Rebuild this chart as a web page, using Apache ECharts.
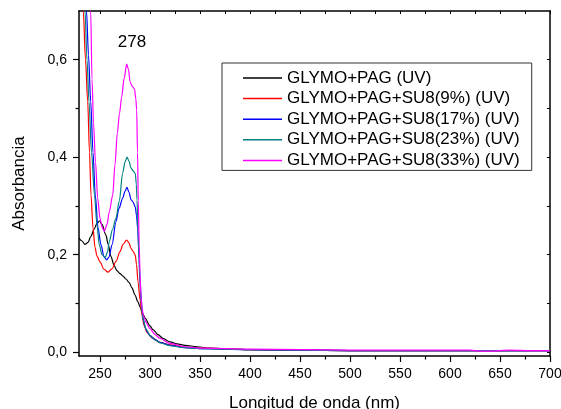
<!DOCTYPE html>
<html><head><meta charset="utf-8">
<script src="https://cdn.jsdelivr.net/npm/echarts@6/dist/echarts.min.js"></script>
<style>html,body{margin:0;padding:0;background:#fff}#c{width:561px;height:409px}</style>
</head><body><div id="c"></div><script>
const seriesNames = ['GLYMO+PAG (UV)','GLYMO+PAG+SU8(9%) (UV)','GLYMO+PAG+SU8(17%) (UV)','GLYMO+PAG+SU8(23%) (UV)','GLYMO+PAG+SU8(33%) (UV)'];
const seriesColors = ['#000000','#ff0000','#0000ff','#008080','#ff00ff'];

const glymoPag = [[229,0.234],[232,0.228],[235,0.221],[238,0.225],[241,0.238],[244,0.252],[247,0.264],[249.5,0.269],[252,0.262],[256,0.240],[258,0.222],[261,0.196],[264,0.178],[267,0.167],[270,0.161],[273,0.156],[276,0.150],[279,0.143],[282,0.132],[285,0.117],[288,0.103],[290,0.093],[292.5,0.080],[295,0.070],[300,0.054],[303,0.046],[308,0.036],[313,0.028],[320,0.021],[327,0.017],[335,0.014],[347,0.011],[360,0.008],[380,0.006],[400,0.005],[450,0.004],[500,0.003],[550,0.003],[600,0.003],[650,0.003],[700,0.003]];
const su8_9 = [[229,0.88],[231,0.79],[233.3,0.70],[235.5,0.60],[237.7,0.514],[239.5,0.41],[241,0.322],[243,0.255],[245,0.215],[247,0.197],[250,0.185],[254,0.170],[258,0.164],[262,0.171],[266,0.186],[270,0.206],[273,0.221],[276.7,0.230],[279,0.224],[281,0.213],[283,0.207],[285.3,0.199],[286.5,0.180],[288,0.145],[290,0.108],[292,0.075],[294,0.055],[297,0.040],[302,0.029],[310,0.020],[320,0.015],[335,0.010],[350,0.008],[400,0.005],[450,0.004],[500,0.003],[600,0.003],[700,0.003]];
const su8_17 = [[229,1.02],[233,0.85],[236.5,0.70],[238.5,0.61],[240.7,0.514],[243,0.41],[245.3,0.322],[248,0.255],[251,0.220],[254,0.196],[256.7,0.189],[259,0.195],[262,0.220],[266,0.268],[269,0.295],[272.7,0.316],[275,0.330],[277,0.338],[279,0.328],[281,0.313],[283,0.308],[285.3,0.298],[286.5,0.280],[287.7,0.254],[289,0.200],[290,0.151],[291,0.117],[292,0.090],[293,0.070],[295,0.052],[297,0.042],[300,0.034],[305,0.026],[310,0.020],[320,0.014],[335,0.009],[350,0.007],[400,0.005],[450,0.004],[500,0.003],[600,0.003],[700,0.003]];
const su8_23 = [[229,0.95],[232,0.80],[235,0.70],[237,0.60],[239,0.514],[241.5,0.41],[244.5,0.322],[247,0.260],[249.3,0.220],[252,0.200],[255.3,0.194],[257.5,0.205],[259.3,0.227],[262.5,0.252],[266,0.275],[269.3,0.310],[272.7,0.368],[275,0.390],[277,0.400],[279,0.392],[281,0.378],[283,0.372],[285.3,0.367],[286.3,0.345],[287,0.312],[288,0.250],[289,0.190],[290,0.140],[291,0.105],[292,0.082],[293.5,0.064],[296,0.047],[300,0.034],[305,0.025],[310,0.019],[320,0.013],[335,0.009],[350,0.007],[400,0.005],[450,0.004],[500,0.003],[600,0.003],[700,0.003]];
const su8_33 = [[236,1.10],[239.5,0.80],[240.7,0.70],[242,0.56],[243.5,0.47],[245.5,0.39],[247.7,0.315],[250,0.275],[252,0.256],[254.3,0.248],[257,0.262],[259.3,0.288],[262.7,0.322],[265,0.385],[267.3,0.449],[269.5,0.490],[271.7,0.524],[274,0.560],[276.7,0.591],[278.5,0.580],[280,0.555],[282,0.546],[284.5,0.540],[285.8,0.520],[286.7,0.497],[287.5,0.410],[288.3,0.312],[289.2,0.220],[290,0.160],[291,0.115],[292,0.090],[293.5,0.074],[296,0.061],[300,0.048],[305,0.036],[310,0.028],[320,0.018],[335,0.011],[350,0.008],[400,0.006],[450,0.005],[500,0.004],[550,0.004],[600,0.004],[620,0.004],[630,0.002],[640,0.002],[660,0.004],[680,0.003],[700,0.003]];
const seriesData = [glymoPag, su8_9, su8_17, su8_23, su8_33];

const xMajorTicks = [250,300,350,400,450,500,550,600,650,700];
const xMinorTicks = [275,325,375,425,475,525,575,625,675];
const yMajorTicks = [0,0.2,0.4,0.6];
const yMinorTicks = [0.1,0.3,0.5];
const peakText = '278';
const peakAt = [282, 0.635];

const FONT = 'Liberation Sans, Arial, sans-serif';
const axisLineStyle = {color:'#000', width:1.5};
const X_MIN = 229, X_MAX = 700, Y_MIN = -0.008, Y_MAX = 0.70;

const chart = echarts.init(document.getElementById('c'), null, {renderer:'canvas'});
const option = {
  animation: false,
  backgroundColor: '#fff',
  grid: {left:79, right:11, top:11, bottom:53, outerBoundsMode:'none', containLabel:false},
  legend: {
    orient:'vertical', left:222, top:63,
    padding:[6,12,1,21], borderColor:'#333', borderWidth:1,
    itemWidth:39, itemHeight:1.5, itemGap:2.6, icon:'rect',
    textStyle:{fontSize:17, lineHeight:18, color:'#000', fontFamily:FONT},
    data: seriesNames
  },
  xAxis: [
    {type:'value', min:X_MIN, max:X_MAX, position:'bottom',
     axisLine:{onZero:false, lineStyle:axisLineStyle},
     axisTick:{customValues:xMajorTicks, length:6, lineStyle:{color:'#000', width:1.2}},
     axisLabel:{customValues:xMajorTicks, margin:11, fontSize:14, color:'#000', fontFamily:FONT},
     splitLine:{show:false},
     name:'Longitud de onda (nm)', nameLocation:'middle', nameGap:39,
     nameTextStyle:{fontSize:17, color:'#000', fontFamily:FONT}},
    {type:'value', min:X_MIN, max:X_MAX, position:'bottom',
     axisLine:{show:false, onZero:false},
     axisTick:{customValues:xMinorTicks, length:3.5, lineStyle:{color:'#000', width:1.2}},
     axisLabel:{show:false}, splitLine:{show:false}},
    {type:'value', min:X_MIN, max:X_MAX, position:'top',
     axisLine:{onZero:false, lineStyle:axisLineStyle},
     axisTick:{inside:true, customValues:xMajorTicks.concat(xMinorTicks), length:3, lineStyle:{color:'#000', width:1}},
     axisLabel:{show:false}, splitLine:{show:false}}
  ],
  yAxis: [
    {type:'value', min:Y_MIN, max:Y_MAX, position:'left',
     axisLine:{show:true, onZero:false, lineStyle:axisLineStyle},
     axisTick:{show:true, customValues:yMajorTicks, length:6, lineStyle:{color:'#000', width:1.2}},
     axisLabel:{customValues:yMajorTicks, margin:12, fontSize:14, color:'#000', fontFamily:FONT,
       formatter: v => v.toFixed(1).replace('.', ',')},
     splitLine:{show:false},
     name:'Absorbancia', nameLocation:'middle', nameGap:51, nameRotate:90,
     nameTextStyle:{fontSize:17, color:'#000', fontFamily:FONT}},
    {type:'value', min:Y_MIN, max:Y_MAX, position:'left',
     axisLine:{show:false, onZero:false},
     axisTick:{show:true, customValues:yMinorTicks, length:3.5, lineStyle:{color:'#000', width:1.2}},
     axisLabel:{show:false}, splitLine:{show:false}},
    {type:'value', min:Y_MIN, max:Y_MAX, position:'right',
     axisLine:{show:true, onZero:false, lineStyle:axisLineStyle},
     axisTick:{show:true, inside:true, customValues:yMajorTicks.concat(yMinorTicks), length:3, lineStyle:{color:'#000', width:1}},
     axisLabel:{show:false}, splitLine:{show:false}}
  ],
  series: seriesNames.map((name, i) => ({
    name, type:'line', xAxisIndex:0, yAxisIndex:0,
    data: seriesData[i], showSymbol:false, symbol:'none',
    smooth:0.3, smoothMonotone:'x', clip:true,
    color: seriesColors[i],
    lineStyle:{color:seriesColors[i], width:1.2},
    z: 2 + i,
    markPoint: i === 4 ? {
      symbol:'rect', symbolSize:1, itemStyle:{color:'rgba(0,0,0,0)'},
      label:{show:true, position:'inside', formatter:peakText, fontSize:17, color:'#000', fontFamily:FONT},
      data:[{coord:peakAt, value:peakText}]
    } : undefined
  }))
};
chart.setOption(option);
</script></body></html>
